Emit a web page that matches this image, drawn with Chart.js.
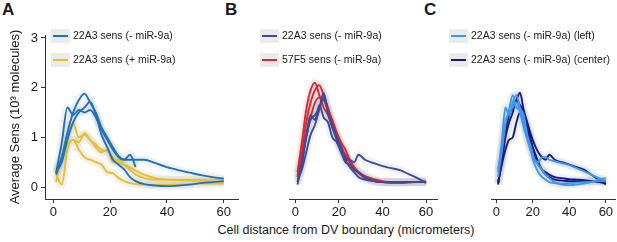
<!DOCTYPE html>
<html lang="en">
<head>
<meta charset="UTF-8">
<script src="https://cdn.jsdelivr.net/npm/chart.js@4.4.1/dist/chart.umd.min.js"></script>
<title>Sens profiles</title>
<style>
*{ margin:0; padding:0; box-sizing:border-box; }
body{ width:617px; height:242px; background:#fff; position:relative; overflow:hidden;
  font-family:"Liberation Sans", Arial, sans-serif; color:#1a1a1a; }
.panel{ position:absolute; top:0; height:220px; }
.letter{ position:absolute; top:0px; font-weight:bold; font-size:17px; }
#xtitle{ position:absolute; top:223px; left:200px; width:292px; text-align:center; font-size:12.5px; }
</style>
</head>
<body>
<div class="letter" style="left:2px">A</div>
<div class="letter" style="left:225px">B</div>
<div class="letter" style="left:424px">C</div>
<div class="panel" style="left:0;width:240px"><canvas id="chartA"></canvas></div>
<div class="panel" style="left:240px;width:200px"><canvas id="chartB"></canvas></div>
<div class="panel" style="left:440px;width:177px"><canvas id="chartC"></canvas></div>
<div id="xtitle">Cell distance from DV boundary (micrometers)</div>
<script>
// distance from DV boundary (micrometers)
const dist = [1,3,5,7,9,11,13,15,17,19,21,23,25,27,29,32,36,40,44,48,52,56,60];
const xTicks = [0,20,40,60];
const yTicks = [0,1,2,3];

// panel A: 22A3 sens, - / + miR-9a (10^3 molecules)
const aMinus1 = [0.28,0.9,1.6,1.45,1.55,1.5,1.55,1.4,1.15,0.95,0.75,0.6,0.55,0.65,0.4,null,null,null,null,null,null,null,null];
const aMinus2 = [0.25,0.6,1.1,1.5,1.75,1.88,1.7,1.5,1.2,1.0,0.8,0.62,0.55,0.55,0.55,0.55,0.48,0.4,0.34,0.29,0.24,0.2,0.17];
const aMinus3 = [0.3,0.5,0.95,1.3,1.5,1.6,1.72,1.45,1.05,0.8,0.55,0.45,0.35,0.2,0.12,0.06,0.03,0.02,0.03,0.05,0.08,0.1,0.12];
const aPlus1 = [0.1,0.6,1.05,1.28,1.0,1.05,0.95,0.85,0.75,0.72,0.6,0.5,0.45,0.4,0.33,0.25,0.18,0.15,0.14,0.13,0.12,0.11,0.1];
const aPlus2 = [0.25,0.05,0.75,0.95,0.9,1.08,0.95,0.8,0.7,0.75,0.5,0.55,0.45,0.35,0.25,0.18,0.15,0.15,0.15,0.15,0.15,0.15,0.15];
const aPlus3 = [0.35,0.6,0.85,0.95,0.75,0.6,0.55,0.5,0.45,0.3,0.28,0.18,0.12,0.08,0.06,0.05,0.05,0.05,0.05,0.06,0.07,0.07,0.07];

// panel B: 22A3 sens vs 57F5 sens
const b22a1 = [0.1,0.5,1.0,1.35,1.45,1.6,1.9,1.5,1.2,0.95,0.75,0.6,0.55,0.5,0.65,0.55,0.48,0.42,0.38,0.34,0.26,0.18,0.08];
const b22a2 = [0.05,0.45,1.05,1.45,1.35,1.65,1.4,1.3,1.0,0.9,0.7,0.5,0.45,0.35,0.3,0.2,0.12,0.1,0.1,0.1,0.1,0.1,0.1];
const b22a3 = [0.15,0.35,0.7,1.05,1.25,1.55,1.8,1.5,1.25,1.0,0.8,0.55,0.4,0.3,0.2,0.15,0.12,0.1,0.1,0.1,0.1,0.1,0.1];
const b57f1 = [0.3,0.9,1.55,1.95,2.1,1.85,1.6,1.45,1.2,1.0,0.85,0.6,0.5,0.4,0.3,0.2,0.13,0.1,0.08,0.08,0.09,0.1,0.1];
const b57f2 = [0.2,0.7,1.3,1.7,1.95,2.05,1.85,1.6,1.3,1.05,0.8,0.65,0.5,0.38,0.28,0.18,0.12,0.1,0.09,0.09,0.1,0.1,0.1];
const b57f3 = [0.25,0.55,1.0,1.4,1.7,1.8,1.75,1.55,1.35,1.1,0.9,0.75,0.55,0.4,0.3,0.22,0.16,0.12,0.1,0.1,0.1,0.1,0.12];

// panel C: 22A3 sens, left vs center
const cLeft1 = [0.3,0.9,1.6,1.45,1.7,1.85,1.6,1.45,1.05,0.8,0.55,0.45,0.35,0.25,0.18,0.1,0.05,0.04,0.05,0.07,0.1,0.15,0.18];
const cLeft2 = [0.2,0.7,1.25,1.55,1.85,1.6,1.55,1.3,1.0,0.75,0.55,0.5,0.6,0.6,0.55,0.52,0.48,0.44,0.38,0.32,0.25,0.18,0.12];
const cLeft3 = [0.35,0.8,1.3,1.5,1.6,1.7,1.5,1.2,0.95,0.7,0.45,0.3,0.2,0.15,0.1,0.08,0.07,0.08,0.09,0.1,0.11,0.12,0.12];
const cCenter1 = [0.05,0.6,1.1,1.45,1.6,1.75,1.9,1.55,1.3,1.05,0.85,0.7,0.6,0.55,0.65,0.55,0.5,0.45,0.4,0.35,0.25,0.15,0.05];
const cCenter2 = [0.1,0.45,0.75,0.95,1.0,1.3,1.5,1.35,1.2,0.95,0.6,0.45,0.35,0.3,0.25,0.2,0.18,0.16,0.15,0.14,0.12,0.1,0.08];
const cCenter3 = [0.08,0.5,1.0,1.3,1.5,1.75,1.65,1.5,1.15,0.9,0.7,0.5,0.35,0.25,0.2,0.15,0.13,0.12,0.12,0.12,0.12,0.12,0.12];

const FONT = '"Liberation Sans", Arial, sans-serif';
const INK = '#1a1a1a';

function pts(vals){
  return dist.map((d,i)=>({x:d, y:vals[i]}));
}

function makeSets(groups){
  const sets = [];
  groups.forEach(g=>{
    g.series.forEach(s=>{
      // grey band behind each curve
      sets.push({data:pts(s), borderColor:'rgba(190,190,190,0.22)', borderWidth:8,
        pointRadius:0, cubicInterpolationMode:'monotone', order:2, borderJoinStyle:'round'});
      sets.push({data:pts(s), borderColor:g.color, borderWidth:1.9,
        pointRadius:0, cubicInterpolationMode:'monotone', order:1, borderJoinStyle:'round'});
    });
  });
  return sets;
}

const keyLegend = {
  id:'keyLegend',
  afterDraw(chart, args, opts){
    const ctx = chart.ctx;
    ctx.save();
    opts.items.forEach((it,i)=>{
      const cy = 36 + i*24;
      ctx.fillStyle = '#ebebeb';
      ctx.fillRect(opts.x, cy-7, 19, 14);
      ctx.strokeStyle = it.color;
      ctx.lineWidth = 2;
      ctx.beginPath();
      ctx.moveTo(opts.x+2, cy);
      ctx.lineTo(opts.x+17, cy);
      ctx.stroke();
      ctx.fillStyle = INK;
      ctx.font = '10.5px ' + FONT;
      ctx.textBaseline = 'middle';
      ctx.fillText(it.label, opts.x+22, cy);
    });
    ctx.restore();
  }
};

function makeChart(id, groups, opt){
  const axisGrid = {display:true, drawOnChartArea:false, drawTicks:true, tickLength:4, color:'#333'};
  return new Chart(document.getElementById(id), {
    type:'line',
    data:{datasets:makeSets(groups)},
    plugins:[keyLegend],
    options:{
      responsive:true, maintainAspectRatio:false, animation:false,
      layout:{padding:{top:35, left:opt.padLeft, right:opt.padRight, bottom:0}},
      plugins:{
        legend:{display:false}, tooltip:{enabled:false},
        keyLegend:{x:opt.keyX, items:groups.map(g=>({label:g.label, color:g.color}))}
      },
      scales:{
        x:{type:'linear', min:-2.9, max:65,
          afterBuildTicks:ax=>{ ax.ticks = xTicks.map(v=>({value:v})); },
          afterFit:ax=>{ ax.height = 21; },
          grid:axisGrid, border:{display:true, color:'#333', width:1},
          ticks:{color:INK, font:{family:FONT, size:13}, padding:2, maxRotation:0}},
        y:{type:'linear', min:-0.24, max:3.06, display:opt.showY,
          afterBuildTicks:ax=>{ ax.ticks = yTicks.map(v=>({value:v})); },
          afterFit:ax=>{ ax.width = 45; },
          grid:axisGrid, border:{display:true, color:'#333', width:1},
          ticks:{color:INK, font:{family:FONT, size:13}, padding:3},
          title:{display:true, text:'Average Sens (10³ molecules)', color:INK,
            font:{family:FONT, size:13}, padding:{top:8, bottom:0}}}
      }
    }
  });
}

makeChart('chartA', [
  {label:'22A3 sens (- miR-9a)', color:'#1b72bd', series:[aMinus1,aMinus2,aMinus3]},
  {label:'22A3 sens (+ miR-9a)', color:'#e9bf24', series:[aPlus1,aPlus2,aPlus3]}
], {padLeft:0, padRight:2, keyX:51, showY:true});

makeChart('chartB', [
  {label:'22A3 sens (- miR-9a)', color:'#3b4b9b', series:[b22a1,b22a2,b22a3]},
  {label:'57F5 sens (- miR-9a)', color:'#e1252b', series:[b57f1,b57f2,b57f3]}
], {padLeft:4, padRight:3, keyX:20, showY:false});

makeChart('chartC', [
  {label:'22A3 sens (- miR-9a) (left)', color:'#3a9ae8', series:[cLeft1,cLeft2,cLeft3]},
  {label:'22A3 sens (- miR-9a) (center)', color:'#15178a', series:[cCenter1,cCenter2,cCenter3]}
], {padLeft:6, padRight:2, keyX:9, showY:false});
</script>
</body>
</html>
